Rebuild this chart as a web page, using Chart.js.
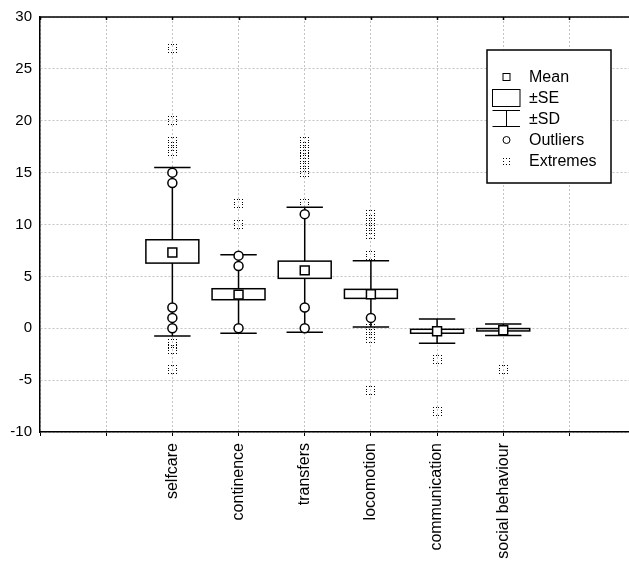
<!DOCTYPE html>
<html>
<head>
<meta charset="utf-8">
<script src="https://cdn.jsdelivr.net/npm/chart.js@4"></script>
<style>
  html, body { margin: 0; padding: 0; background: #fff; }
  #wrap { width: 629px; height: 562px; position: relative; }
</style>
</head>
<body>
<div id="wrap"><canvas id="box_chart"></canvas></div>
<script>
// categories and statistics
const categories = ['selfcare', 'continence', 'transfers', 'locomotion', 'communication', 'social behaviour'];
const means  = [7.3, 3.24, 5.58, 3.27, -0.29, -0.19];
const seLow  = [6.28, 2.75, 4.81, 2.88, -0.48, -0.26];
const seHigh = [8.53, 3.81, 6.47, 3.75, -0.1, -0.03];
const sdLow  = [-0.74, -0.48, -0.38, 0.13, -1.44, -0.7];
const sdHigh = [15.5, 7.08, 11.67, 6.5, 0.9, 0.42];
const outliers = [
    [15, 14, 2, 1, 0],
    [7, 6, 0],
    [11, 2, 0],
    [1],
    [],
    []
];
const extremes = [
    [27, 20, 18, 17.5, 17, -1.5, -2, -4],
    [12, 10],
    [18, 17.5, 17, 16.5, 16, 15.5, 15, 12],
    [11, 10.5, 10, 9.5, 9, 7, 0, -0.5, -1, -6],
    [-3, -8],
    [-4]
];
const yTicks = [-10, -5, 0, 5, 10, 15, 20, 25, 30];

const FONT = '"Liberation Sans", Arial, sans-serif';

// category i sits at x = i + 2 on the linear axis (two empty slots on the left)
function catX(i) { return i + 2; }

// little square made of dots, used for the "Extremes" marker
function dottedSquare(s) {
    const c = document.createElement('canvas');
    c.width = s; c.height = s;
    const g = c.getContext('2d');
    g.fillStyle = '#000';
    const steps = [0, 3, s - 4, s - 1];
    steps.forEach(p => {
        g.fillRect(p, 0, 1, 1);
        g.fillRect(p, s - 1, 1, 1);
        g.fillRect(0, p, 1, 1);
        g.fillRect(s - 1, p, 1, 1);
    });
    return c;
}
const extremeIcon = dottedSquare(9);

const boxPlugin = {
    id: 'boxes',
    // whiskers (±SD) and boxes (±SE)
    beforeDatasetsDraw(chart) {
        const ctx = chart.ctx;
        const xs = chart.scales.x, ys = chart.scales.y;
        ctx.save();
        ctx.strokeStyle = '#000';
        ctx.lineWidth = 1.5;
        categories.forEach((c, i) => {
            const xc = xs.getPixelForValue(catX(i));
            const capL = xs.getPixelForValue(catX(i) - 0.275);
            const capR = xs.getPixelForValue(catX(i) + 0.275);
            const bL = xs.getPixelForValue(catX(i) - 0.4);
            const bR = xs.getPixelForValue(catX(i) + 0.4);
            const yLo = ys.getPixelForValue(sdLow[i]);
            const yHi = ys.getPixelForValue(sdHigh[i]);
            ctx.beginPath();
            ctx.moveTo(xc, yLo); ctx.lineTo(xc, yHi);
            ctx.moveTo(capL, yLo); ctx.lineTo(capR, yLo);
            ctx.moveTo(capL, yHi); ctx.lineTo(capR, yHi);
            ctx.stroke();
            const t = ys.getPixelForValue(seHigh[i]);
            const b = ys.getPixelForValue(seLow[i]);
            ctx.fillStyle = '#fff';
            ctx.fillRect(bL, t, bR - bL, b - t);
            ctx.strokeRect(bL, t, bR - bL, b - t);
        });
        ctx.restore();
        // keep the dotted extreme markers crisp
        ctx.imageSmoothingEnabled = false;
    },
    afterDraw(chart) {
        const ctx = chart.ctx;
        const a = chart.chartArea;
        const xs = chart.scales.x;
        ctx.save();
        // top frame line with small inner ticks
        ctx.strokeStyle = '#000';
        ctx.lineWidth = 1.5;
        ctx.beginPath();
        ctx.moveTo(a.left, a.top); ctx.lineTo(a.right, a.top);
        xs.ticks.forEach(t => {
            const px = Math.round(xs.getPixelForValue(t.value)) + 0.5;
            ctx.moveTo(px, a.top); ctx.lineTo(px, a.top + 3);
        });
        ctx.stroke();

        // legend
        const L = 487, T = 50, R = 611, B = 183;
        ctx.fillStyle = '#fff';
        ctx.fillRect(L, T, R - L, B - T);
        ctx.lineWidth = 1.5;
        ctx.strokeRect(L, T, R - L, B - T);
        const cx = 506.5;
        ctx.lineWidth = 1;
        ctx.strokeRect(cx - 3.5, 73.5, 7, 7);
        ctx.strokeRect(492.5, 89.5, 27.5, 17);
        ctx.beginPath();
        ctx.moveTo(492.5, 110.5); ctx.lineTo(520, 110.5);
        ctx.moveTo(492.5, 126.5); ctx.lineTo(520, 126.5);
        ctx.moveTo(cx, 110.5); ctx.lineTo(cx, 126.5);
        ctx.stroke();
        ctx.beginPath();
        ctx.arc(cx, 140, 3.5, 0, Math.PI * 2);
        ctx.stroke();
        ctx.drawImage(dottedSquare(7), Math.round(cx - 3.5), 158);
        ctx.fillStyle = '#000';
        ctx.font = '16px ' + FONT;
        ctx.textBaseline = 'middle';
        ctx.textAlign = 'left';
        ctx.fillText('Mean', 529, 78);
        ctx.fillText('±SE', 529, 99);
        ctx.fillText('±SD', 529, 120);
        ctx.fillText('Outliers', 529, 141);
        ctx.fillText('Extremes', 529, 162);
        ctx.restore();
    }
};

window.onload = function() {
    const ctx = document.getElementById('box_chart').getContext('2d');

    const meanPts = categories.map((c, i) => ({ x: catX(i), y: means[i] }));
    const outPts = [];
    outliers.forEach((arr, i) => arr.forEach(v => outPts.push({ x: catX(i), y: v })));
    const extPts = [];
    extremes.forEach((arr, i) => arr.forEach(v => extPts.push({ x: catX(i), y: v })));

    new Chart(ctx, {
        type: 'scatter',
        data: {
            datasets: [{
                label: 'Mean',
                data: meanPts,
                order: 0,
                pointStyle: 'rect',
                pointRadius: 6.3,
                backgroundColor: '#fff',
                borderColor: '#000',
                borderWidth: 1.5
            }, {
                label: 'Outliers',
                data: outPts,
                order: 1,
                pointStyle: 'circle',
                pointRadius: 4.5,
                backgroundColor: '#fff',
                borderColor: '#000',
                borderWidth: 1.5
            }, {
                label: 'Extremes',
                data: extPts,
                order: 2,
                pointStyle: extremeIcon,
                pointRadius: 5
            }]
        },
        options: {
            responsive: true,
            maintainAspectRatio: false,
            animation: false,
            events: [],
            layout: { autoPadding: false, padding: { top: 16, right: 0, left: 0, bottom: 0 } },
            plugins: { legend: { display: false }, tooltip: { enabled: false } },
            scales: {
                x: {
                    type: 'linear',
                    min: 0,
                    max: 8.9,
                    afterBuildTicks(scale) {
                        scale.ticks = [0, 1, 2, 3, 4, 5, 6, 7, 8].map(v => ({ value: v }));
                    },
                    afterFit(scale) {
                        scale.height = 130;
                        scale.paddingLeft = 0;
                        scale.paddingRight = 0;
                    },
                    ticks: {
                        autoSkip: false,
                        minRotation: 90,
                        maxRotation: 90,
                        padding: 7,
                        color: '#000',
                        font: { family: FONT, size: 16 },
                        callback: v => {
                            const i = v - 2;
                            return (i >= 0 && i < categories.length) ? categories[i] : '';
                        }
                    },
                    grid: { color: '#c4c4c4', tickColor: '#000', tickLength: 4 },
                    border: { color: '#000', width: 1.5, dash: [2, 2] }
                },
                y: {
                    min: -10,
                    max: 30,
                    afterBuildTicks(scale) {
                        scale.ticks = yTicks.map(v => ({ value: v }));
                    },
                    afterFit(scale) { scale.width = 40; },
                    ticks: {
                        padding: 8,
                        color: '#000',
                        font: { family: FONT, size: 15 }
                    },
                    grid: { color: '#c4c4c4', drawTicks: false },
                    border: { color: '#000', width: 1.5, dash: [2, 2] }
                }
            }
        },
        plugins: [boxPlugin]
    });
};
</script>
</body>
</html>
